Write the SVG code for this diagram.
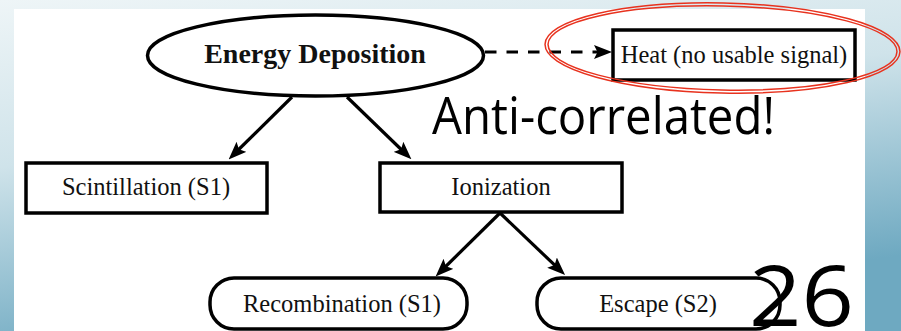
<svg xmlns="http://www.w3.org/2000/svg" width="901" height="331" viewBox="0 0 901 331">
<defs>
<linearGradient id="bg" x1="0" y1="0" x2="0.35" y2="1">
<stop offset="0" stop-color="#eef5f7"/>
<stop offset="0.45" stop-color="#cfe3ea"/>
<stop offset="1" stop-color="#6ea9c1"/>
</linearGradient>
<marker id="ah" viewBox="0 0 18 14" refX="11" refY="7" markerWidth="18" markerHeight="14" markerUnits="userSpaceOnUse" orient="auto">
<path d="M0,0 L18,7 L0,14 L3.5,7 z" fill="#000"/>
</marker>
<style>
.box{fill:#fff;stroke:#000;stroke-width:3.5}
.t{font-family:"Liberation Serif","Times New Roman",serif;font-size:24.5px;fill:#111;text-anchor:middle}
.tb{font-family:"Liberation Serif","Times New Roman",serif;font-size:28px;font-weight:bold;fill:#111;text-anchor:middle}
.conn{stroke:#000;stroke-width:3.2;fill:none;marker-end:url(#ah)}
.big{font-family:"Open Sans","DejaVu Sans",sans-serif;font-weight:400;fill:#000}
.red{fill:none;stroke:#e8321e;stroke-width:1.5}
</style>
</defs>
<rect x="0" y="0" width="901" height="331" fill="url(#bg)"/>
<rect x="14" y="9" width="851" height="322" fill="#fff"/>

<g id="connectors">
<line class="conn" x1="292" y1="97" x2="233.6" y2="154.5"/>
<line class="conn" x1="347" y1="97" x2="406.4" y2="154.5"/>
<line class="conn" x1="500" y1="213" x2="440.6" y2="271.5"/>
<line class="conn" x1="500" y1="213" x2="560" y2="270.2"/>
<line class="conn" x1="485" y1="52" x2="605" y2="52" stroke-width="3.5" stroke-dasharray="11.5 10"/>
</g>

<g id="energy-deposition">
<ellipse cx="315.5" cy="55.5" rx="168" ry="40.5" fill="#fff" stroke="#000" stroke-width="3.5"/>
<text class="tb" x="315" y="63">Energy Deposition</text>
</g>

<g id="heat">
<rect class="box" x="613" y="30" width="242" height="50"/>
<text class="t" x="734" y="63">Heat (no usable signal)</text>
</g>

<g id="heat-highlight" transform="rotate(1.2 722.5 48)">
<ellipse class="red" cx="722.5" cy="48" rx="177.5" ry="45"/>
<ellipse class="red" cx="722.5" cy="48" rx="174.5" ry="42"/>
</g>

<g id="scintillation">
<rect class="box" x="26" y="163" width="241" height="50"/>
<text class="t" x="146" y="195">Scintillation (S1)</text>
</g>

<g id="ionization">
<rect class="box" x="380" y="163" width="242" height="49"/>
<text class="t" x="501" y="195">Ionization</text>
</g>

<g id="recombination">
<rect class="box" x="210" y="278" width="257" height="51" rx="24" ry="24"/>
<text class="t" x="342" y="312">Recombination (S1)</text>
</g>

<g id="escape">
<rect class="box" x="537" y="278" width="243" height="51" rx="24" ry="24"/>
<text class="t" x="658" y="312">Escape (S2)</text>
</g>

<text class="big" x="432" y="134" font-size="52" textLength="343" lengthAdjust="spacingAndGlyphs">Anti-correlated!</text>
<text class="big" x="749" y="326" font-size="84" textLength="105" lengthAdjust="spacingAndGlyphs">26</text>
</svg>
